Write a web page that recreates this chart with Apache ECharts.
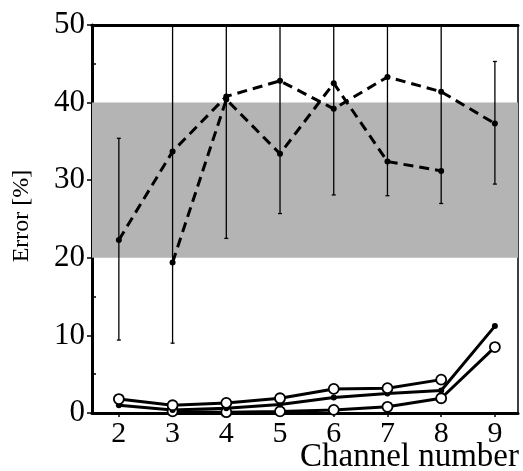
<!DOCTYPE html>
<html>
<head>
<meta charset="utf-8">
<script src="https://cdn.jsdelivr.net/npm/echarts@6/dist/echarts.min.js"></script>
<style>
  html, body { margin: 0; padding: 0; background: #fff; }
  #chart { width: 523px; height: 471px; }
</style>
</head>
<body>
<div id="chart"></div>
<script>
// Channel numbers
const channels = [2, 3, 4, 5, 6, 7, 8, 9];

// Dashed series (upper group)
const dashedA = [22.3, 33.7, 40.8, 42.8, 39.2, 43.3, 41.4, 37.3];
const dashedB = [null, 19.4, 40.4, 33.4, 42.5, 32.4, 31.2, null];

// Error bars of the upper group (lower / upper ends, values above 50 are cut by the frame)
const errLow = [9.4, 9.0, 22.5, 25.7, 28.1, 28.0, 27.0, 29.5];
const errHigh = [35.4, 55, 55, 55, 55, 55, 55, 45.3];

// Solid series (lower group)
const openTop = [1.8, 1.0, 1.3, 1.9, 3.1, 3.2, 4.3, null];
const filledMid = [1.0, 0.4, 0.6, 1.1, 2.0, 2.5, 2.9, 11.2];
const openBottom = [null, 0.2, 0.1, 0.2, 0.4, 0.8, 1.9, 8.5];

// Shaded band
const bandLow = 20;
const bandHigh = 40;

const yTicks = [0, 10, 20, 30, 40, 50];

const pairs = (values) => channels.map((c, i) => [c, values[i]]);

const serif = 'Liberation Serif';

const chart = echarts.init(document.getElementById('chart'));

chart.setOption({
    animation: false,
    grid: {
        left: 92,
        right: 5,
        top: 25,
        bottom: 58,
        outerBoundsMode: 'none',
        containLabel: false,
        show: true,
        borderColor: '#000',
        borderWidth: 1.5
    },
    xAxis: [
        {
            type: 'value',
            min: 1.5,
            max: 9.43,
            position: 'bottom',
            splitLine: {show: false},
            axisLine: {show: true, onZero: false, lineStyle: {color: '#000', width: 3}},
            axisTick: {show: true, customValues: channels, length: 4, lineStyle: {color: '#000', width: 1.5}},
            axisLabel: {
                customValues: channels,
                color: '#000',
                fontFamily: serif,
                fontSize: 30,
                margin: 6
            }
        },
        {
            type: 'value',
            min: 1.5,
            max: 9.43,
            position: 'top',
            splitLine: {show: false},
            axisLine: {show: true, onZero: false, lineStyle: {color: '#000', width: 3}},
            axisTick: {show: false},
            axisLabel: {show: false}
        }
    ],
    yAxis: {
        type: 'value',
        min: 0,
        max: 50,
        interval: 10,
        splitLine: {show: false},
        axisLine: {show: true, onZero: false, lineStyle: {color: '#000', width: 3}},
        axisTick: {show: true, length: 5, lineStyle: {color: '#000', width: 1.5}},
        minorTick: {show: true, splitNumber: 2, length: -4, lineStyle: {color: '#000', width: 1.5}},
        axisLabel: {
            customValues: yTicks,
            color: '#000',
            fontFamily: serif,
            fontSize: 31,
            margin: 7
        }
    },
    graphic: [
        {
            // y axis title
            type: 'text',
            x: 22,
            y: 216,
            rotation: Math.PI / 2,
            style: {
                text: 'Error [%]',
                fill: '#000',
                font: '24px "Liberation Serif"',
                align: 'center',
                verticalAlign: 'middle'
            }
        },
        {
            // x axis title
            type: 'text',
            x: 519,
            y: 457,
            style: {
                text: 'Channel number',
                fill: '#000',
                font: '33px "Liberation Serif"',
                align: 'right',
                verticalAlign: 'middle'
            }
        }
    ],
    series: [
        {
            // shaded band
            type: 'line',
            data: [],
            silent: true,
            markArea: {
                silent: true,
                itemStyle: {color: '#b4b4b4'},
                data: [[{yAxis: bandLow}, {yAxis: bandHigh}]]
            }
        },
        {
            // error bars
            type: 'custom',
            clip: true,
            data: channels.map((c, i) => [c, errLow[i], errHigh[i]]),
            renderItem: (params, api) => {
                const low = api.coord([api.value(0), api.value(1)]);
                const high = api.coord([api.value(0), api.value(2)]);
                const top = Math.max(high[1], params.coordSys.y);
                return {
                    type: 'group',
                    children: [
                        {
                            type: 'line',
                            shape: {x1: low[0], y1: low[1], x2: low[0], y2: top},
                            style: {stroke: '#000', lineWidth: 1.3}
                        },
                        {
                            type: 'line',
                            shape: {x1: low[0] - 2, y1: low[1], x2: low[0] + 2, y2: low[1]},
                            style: {stroke: '#000', lineWidth: 1.3}
                        },
                        {
                            type: 'line',
                            shape: {x1: low[0] - 2, y1: top, x2: low[0] + 2, y2: top},
                            style: {stroke: '#000', lineWidth: 1.3}
                        }
                    ]
                };
            },
            z: 3
        },
        {
            type: 'line',
            data: pairs(dashedA),
            symbol: 'circle',
            symbolSize: 6,
            itemStyle: {color: '#000'},
            lineStyle: {color: '#000', width: 3, type: [10, 6]},
            z: 4
        },
        {
            type: 'line',
            data: pairs(dashedB),
            symbol: 'circle',
            symbolSize: 6,
            itemStyle: {color: '#000'},
            lineStyle: {color: '#000', width: 3, type: [10, 6]},
            z: 4
        },
        {
            type: 'line',
            data: pairs(openBottom),
            symbol: 'circle',
            symbolSize: 10,
            itemStyle: {color: '#fff', borderColor: '#000', borderWidth: 1.8},
            lineStyle: {color: '#000', width: 3},
            z: 5
        },
        {
            type: 'line',
            data: pairs(filledMid),
            symbol: 'circle',
            symbolSize: 6,
            itemStyle: {color: '#000'},
            lineStyle: {color: '#000', width: 3},
            z: 5
        },
        {
            type: 'line',
            data: pairs(openTop),
            symbol: 'circle',
            symbolSize: 10,
            itemStyle: {color: '#fff', borderColor: '#000', borderWidth: 1.8},
            lineStyle: {color: '#000', width: 3},
            z: 6
        }
    ]
});
</script>
</body>
</html>
